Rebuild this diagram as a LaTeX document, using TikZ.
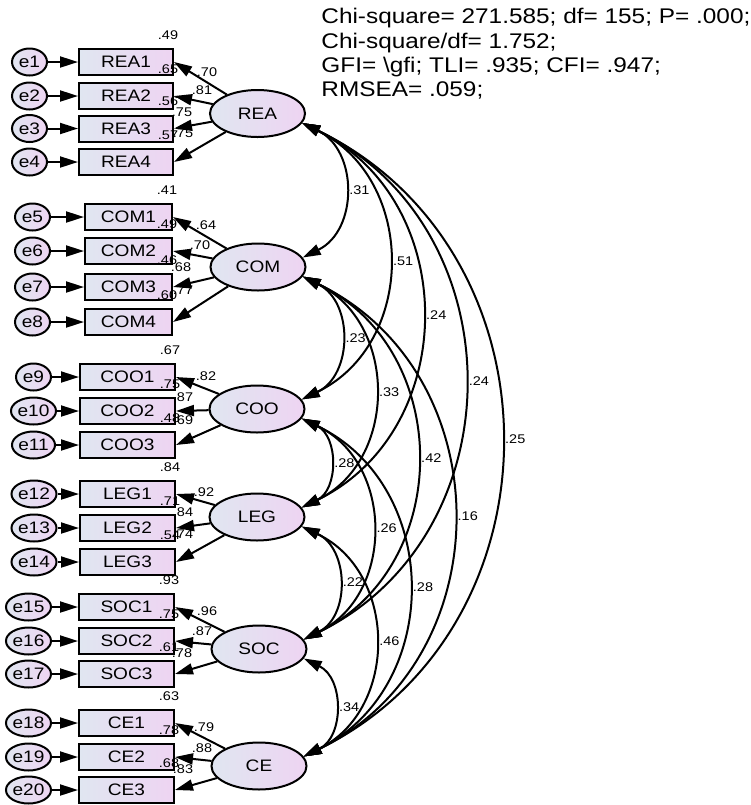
\documentclass[tikz,border=0pt]{standalone}
\usepackage{fontspec}
\setmainfont{Liberation Sans}[FakeStretch=1.15]
\usetikzlibrary{arrows.meta,shapes.geometric,calc}
\definecolor{fillL}{RGB}{224,230,241}
\definecolor{fillR}{RGB}{238,212,242}

\begin{document}
\begin{tikzpicture}[x=0.5pt, y=0.5pt,
  ind/.style={draw, line width=1pt, minimum height=13pt, inner sep=0pt, left color=fillL, right color=fillR, font=\fontsize{8.3}{10}\selectfont},
  err/.style={ellipse, draw, line width=1pt, minimum width=17.5pt, minimum height=13.5pt, inner sep=0pt, left color=fillL, right color=fillR, font=\fontsize{8.3}{10}\selectfont},
  lat/.style={ellipse, draw, line width=1pt, minimum width=47.5pt, minimum height=23.5pt, inner sep=0pt, left color=fillL, right color=fillR, font=\fontsize{8.3}{10}\selectfont},
  coef/.style={inner sep=0pt, font=\fontsize{6.3}{7.5}\selectfont},
  reg/.style={-{Triangle[length=9pt, width=5.5pt]}, line width=1pt},
  cov/.style={{Triangle[length=9pt, width=5.5pt]}-{Triangle[length=9pt, width=5.5pt]}, line width=1pt, bend left=64, looseness=1.18}
]
\useasboundingbox (0,0) rectangle (751,-805);

% fit indices
\node[anchor=north west, inner sep=0pt, align=left, font=\fontsize{10.6}{12.15}\selectfont] (fit) at (321,-8)
  {Chi-square= 271.585; df= 155; P= .000;\\Chi-square/df= 1.752;\\GFI= \textbackslash gfi; TLI= .935; CFI= .947;\\RMSEA= .059;};

% latent factors
\node[lat] (REA) at (257.5,-113.5) {REA};
\node[lat] (COM) at (258,-267) {COM};
\node[lat] (COO) at (257,-409) {COO};
\node[lat] (LEG) at (257,-517) {LEG};
\node[lat] (SOC) at (259,-649) {SOC};
\node[lat] (CE) at (259,-766) {CE};

% indicators, errors, R^2 and loadings
\foreach \lv/\ind/\bx/\bw/\yy/\err/\ex/\rsq/\ld/\lx/\ly in {
  REA/REA1/126/94/62/e1/29.5/.49/.70/207/72,
  REA/REA2/126/94/96/e2/29.5/.65/.81/202/90,
  REA/REA3/126/94/128.5/e3/29.5/.56/.75/182/112,
  REA/REA4/126/94/162/e4/29.5/.57/.75/183/133,
  COM/COM1/128.5/87/217/e5/32.5/.41/.64/206/225,
  COM/COM2/128.5/87/251/e6/32.5/.49/.70/200/245,
  COM/COM3/128.5/87/287/e7/32.5/.46/.68/181/267,
  COM/COM4/128.5/87/322/e8/32.5/.60/.77/183/290,
  COO/COO1/127.5/95/377/e9/33.5/.67/.82/206/376,
  COO/COO2/127.5/95/411/e10/33.5/.75/.87/183/397,
  COO/COO3/127.5/95/445/e11/33.5/.48/.69/183/420,
  LEG/LEG1/127.5/95/494/e12/34/.84/.92/204/492,
  LEG/LEG2/127.5/95/528/e13/34/.71/.84/183/512,
  LEG/LEG3/127.5/95/562/e14/34/.54/.74/183/534,
  SOC/SOC1/126.5/95/607/e15/28.5/.93/.96/207/611,
  SOC/SOC2/126.5/95/641/e16/28.5/.75/.87/202/631,
  SOC/SOC3/126.5/95/674/e17/28.5/.61/.78/182/653,
  CE/CE1/126.5/95/723/e18/28.5/.63/.79/204/727,
  CE/CE2/126.5/95/757/e19/28.5/.78/.88/202/748,
  CE/CE3/126.5/95/790/e20/28.5/.68/.83/183/769}{
  \node[ind, minimum width=\bw*0.5pt] (\ind) at (\bx,-\yy) {\ind};
  \node[err] (\err) at (\ex,-\yy) {\err};
  \draw[reg] (\err) -- (\ind);
  \draw[reg] (\lv) -- (\ind.east);
  \node[coef] (r\ind) at ($(\ind.north east)+(-6,13)$) {\rsq};
  \node[coef] (l\ind) at (\lx,-\ly) {\ld};
}

% covariances
\foreach \a/\b/\c in {REA/COM/.31, REA/COO/.51, REA/LEG/.24, REA/SOC/.24, REA/CE/.25,
  COM/COO/.23, COM/LEG/.33, COM/SOC/.42, COM/CE/.16,
  COO/LEG/.28, COO/SOC/.26, COO/CE/.28,
  LEG/SOC/.22, LEG/CE/.46, SOC/CE/.34}
  \draw[cov] (\a.-12) to node[coef, right=2pt] {\c} (\b.12);

\end{tikzpicture}
\end{document}
